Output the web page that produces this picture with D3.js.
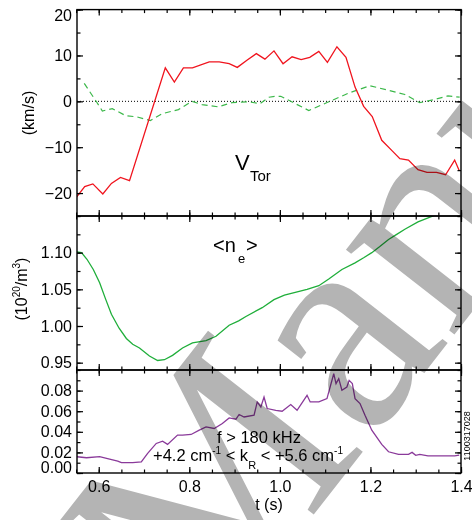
<!DOCTYPE html>
<html>
<head>
<meta charset="utf-8">
<script src="https://cdn.jsdelivr.net/npm/d3@7/dist/d3.min.js"></script>
<style>
  body { margin: 0; background: #fff; }
  svg { display: block; font-family: "Liberation Sans", Arial, Helvetica, sans-serif; }
</style>
</head>
<body>
<svg></svg>
<script>
// shared time axis
const tTicks = [0.6, 0.8, 1.0, 1.2, 1.4];
const tMinor = d3.range(0.55, 1.401, 0.05);

// toroidal velocity (red, km/s)
const vTorT = [0.551,0.569,0.587,0.609,0.628,0.648,0.668,0.747,0.767,0.787,0.807,0.844,0.866,0.888,0.906,0.928,0.948,0.967,0.987,1.007,1.027,1.047,1.066,1.086,1.105,1.126,1.146,1.166,1.185,1.204,1.225,1.247,1.265,1.284,1.305,1.325,1.346,1.366,1.386,1.396];
const vTorV = [-20.9,-18.6,-18.0,-20.2,-17.9,-16.6,-17.3,7.3,4.2,7.3,7.3,8.6,8.6,8.2,7.4,9.0,10.4,9.2,11.0,8.2,9.7,9.1,9.6,10.9,8.5,11.9,9.6,3.1,-1.1,-3.3,-8.5,-10.7,-12.5,-12.8,-14.9,-15.5,-15.5,-16.0,-12.8,-15.1];

// second velocity trace (green dashed)
const vDashT = [0.568,0.595,0.608,0.630,0.659,0.685,0.714,0.740,0.776,0.806,0.828,0.864,0.894,0.930,0.956,0.976,0.989,1.002,1.024,1.064,1.108,1.152,1.199,1.240,1.276,1.309,1.342,1.371,1.397];
const vDashV = [3.9,-0.1,-2.1,-1.6,-3.1,-3.4,-4.2,-2.7,-1.8,0.0,-0.7,-1.2,-0.3,-0.1,-0.5,0.9,1.1,1.1,0.0,-2.0,-0.1,1.8,3.4,2.4,1.5,-0.3,0.4,1.2,0.9];
const vTicks = [-20, -10, 0, 10, 20];

// line averaged density (10^20/m^3)
const neT = [0.551,0.562,0.574,0.588,0.602,0.615,0.628,0.645,0.661,0.675,0.690,0.712,0.730,0.745,0.763,0.785,0.807,0.837,0.859,0.888,0.909,0.925,0.961,0.987,1.010,1.034,1.060,1.086,1.108,1.137,1.166,1.185,1.203,1.220,1.240,1.258,1.276,1.305,1.342,1.400];
const neV = [1.101,1.100,1.091,1.077,1.059,1.037,1.016,0.997,0.983,0.975,0.970,0.959,0.953,0.954,0.960,0.970,0.977,0.980,0.986,1.001,1.007,1.013,1.025,1.036,1.042,1.046,1.050,1.055,1.064,1.077,1.086,1.093,1.100,1.108,1.118,1.125,1.132,1.142,1.151,1.165];
const neTicks = [0.95, 1.00, 1.05, 1.10];

// fluctuation amplitude (purple)
const flT = [0.551,0.573,0.602,0.624,0.642,0.650,0.675,0.694,0.708,0.727,0.741,0.752,0.774,0.785,0.804,0.822,0.837,0.855,0.873,0.888,0.903,0.910,0.921,0.943,0.950,0.958,0.965,0.972,0.991,1.005,1.024,1.038,1.060,1.067,1.086,1.104,1.119,1.124,1.130,1.137,1.148,1.153,1.160,1.166,1.177,1.188,1.203,1.225,1.240,1.262,1.284,1.292,1.300,1.309,1.327,1.357,1.386,1.396];
const flV = [0.0158,0.0148,0.0158,0.0135,0.0116,0.0100,0.0100,0.0109,0.0191,0.0287,0.0309,0.0278,0.0368,0.0368,0.0374,0.0416,0.0448,0.0432,0.0481,0.0535,0.0522,0.0568,0.0544,0.0561,0.0690,0.0641,0.0738,0.0626,0.0609,0.0600,0.0664,0.0609,0.0754,0.0690,0.0690,0.0722,0.0964,0.0868,0.0916,0.0803,0.0835,0.0899,0.0868,0.0722,0.0674,0.0561,0.0416,0.0278,0.0206,0.0181,0.0181,0.0200,0.0172,0.0181,0.0167,0.0167,0.0167,0.0174];
const flTicks = [0.00, 0.02, 0.04, 0.06, 0.08];

const width = 472, height = 520;
const left = 77, right = 461;
const font = 16;

const svg = d3.select("svg").attr("width", width).attr("height", height);

const x = d3.scaleLinear().domain([0.552, 1.4]).range([left, right]);

const panels = [
  { top: 9.6, bottom: 216, domain: [-25, 20], ticks: vTicks, minor: d3.range(-25, 20.1, 5), fmt: d3.format("d") },
  { top: 216, bottom: 370, domain: [0.94, 1.15], ticks: neTicks, minor: d3.range(0.95, 1.151, 0.025), fmt: d3.format(".2f") },
  { top: 370, bottom: 473, domain: [0, 0.1], ticks: flTicks, minor: d3.range(0, 0.1001, 0.01), fmt: d3.format(".2f") }
];
panels.forEach(p => p.y = d3.scaleLinear().domain(p.domain).range([p.bottom, p.top]));

const defs = svg.append("defs");
panels.forEach((p, i) => {
  defs.append("clipPath").attr("id", "clip" + i)
    .append("rect").attr("x", left).attr("y", p.top).attr("width", right - left).attr("height", p.bottom - p.top);
});

function styleAxis(g) {
  g.select(".domain").remove();
  g.selectAll("line").attr("stroke", "#000").attr("stroke-width", 1.2);
  g.selectAll("text").attr("font-size", font).attr("font-family", null).attr("fill", "#000");
}

// zero line in top panel
svg.append("line")
  .attr("x1", left).attr("x2", right)
  .attr("y1", panels[0].y(0)).attr("y2", panels[0].y(0))
  .attr("stroke", "#000").attr("stroke-width", 1).attr("stroke-dasharray", "1,2");

// data lines
const mk = (xs, ys, yScale) => d3.line().x((d, i) => x(xs[i])).y((d, i) => yScale(ys[i]))(xs);

svg.append("path").attr("clip-path", "url(#clip0)")
  .attr("d", mk(vDashT, vDashV, panels[0].y))
  .attr("fill", "none").attr("stroke", "#3cb84a").attr("stroke-width", 1.2).attr("stroke-dasharray", "6,4");

svg.append("path").attr("clip-path", "url(#clip0)")
  .attr("d", mk(vTorT, vTorV, panels[0].y))
  .attr("fill", "none").attr("stroke", "#f0141e").attr("stroke-width", 1.3);

svg.append("path").attr("clip-path", "url(#clip1)")
  .attr("d", mk(neT, neV, panels[1].y))
  .attr("fill", "none").attr("stroke", "#1fae3a").attr("stroke-width", 1.3);

svg.append("path").attr("clip-path", "url(#clip2)")
  .attr("d", mk(flT, flV, panels[2].y))
  .attr("fill", "none").attr("stroke", "#8a3a9a").attr("stroke-width", 1.3);

// frames and axes
panels.forEach((p, i) => {
  svg.append("rect")
    .attr("x", left).attr("y", p.top).attr("width", right - left).attr("height", p.bottom - p.top)
    .attr("fill", "none").attr("stroke", "#000").attr("stroke-width", 1.4);

  // left axis, ticks pointing inward
  const gl = svg.append("g").attr("transform", `translate(${left},0)`)
    .call(d3.axisLeft(p.y).tickValues(p.ticks).tickSize(-6).tickPadding(5).tickFormat(p.fmt));
  styleAxis(gl);
  gl.selectAll(".tick").each(function(d) {
    const yy = p.y(d);
    let off = 0;
    if (yy - p.top < 6) off = p.top + 6 - yy;
    if (p.bottom - yy < 6) off = p.bottom - 6 - yy;
    d3.select(this).select("text").attr("y", off);
  });
  styleAxis(svg.append("g").attr("transform", `translate(${left},0)`)
    .call(d3.axisLeft(p.y).tickValues(p.minor).tickSize(-3.5).tickFormat("")));

  // right axis
  styleAxis(svg.append("g").attr("transform", `translate(${right},0)`)
    .call(d3.axisRight(p.y).tickValues(p.ticks).tickSize(-6).tickFormat("")));
  styleAxis(svg.append("g").attr("transform", `translate(${right},0)`)
    .call(d3.axisRight(p.y).tickValues(p.minor).tickSize(-3.5).tickFormat("")));

  // top and bottom time ticks
  styleAxis(svg.append("g").attr("transform", `translate(0,${p.top})`)
    .call(d3.axisTop(x).tickValues(tTicks).tickSize(-6).tickFormat("")));
  styleAxis(svg.append("g").attr("transform", `translate(0,${p.top})`)
    .call(d3.axisTop(x).tickValues(tMinor).tickSize(-3.5).tickFormat("")));
  const gb = svg.append("g").attr("transform", `translate(0,${p.bottom})`)
    .call(d3.axisBottom(x).tickValues(tTicks).tickSize(-6).tickPadding(8)
      .tickFormat(i === 2 ? d3.format(".1f") : ""));
  styleAxis(gb);
  styleAxis(svg.append("g").attr("transform", `translate(0,${p.bottom})`)
    .call(d3.axisBottom(x).tickValues(tMinor).tickSize(-3.5).tickFormat("")));
});

// axis titles
svg.append("text").attr("transform", "translate(34,113) rotate(-90)")
  .attr("text-anchor", "middle").attr("font-size", font).text("(km/s)");

const yl = svg.append("text").attr("transform", "translate(27,289) rotate(-90)")
  .attr("text-anchor", "middle").attr("font-size", font);
yl.append("tspan").text("(10");
yl.append("tspan").attr("font-size", 10).attr("dy", -7).text("20");
yl.append("tspan").attr("dy", 7).text("/m");
yl.append("tspan").attr("font-size", 10).attr("dy", -7).text("3");
yl.append("tspan").attr("dy", 7).text(")");

svg.append("text").attr("x", (left + right) / 2).attr("y", 510)
  .attr("text-anchor", "middle").attr("font-size", font).text("t (s)");

// panel labels
svg.append("text").attr("x", 235).attr("y", 170).attr("font-size", 22).text("V");
svg.append("text").attr("x", 250).attr("y", 181).attr("font-size", 15).text("Tor");

svg.append("text").attr("x", 213).attr("y", 252).attr("font-size", 20).text("<n");
svg.append("text").attr("x", 238).attr("y", 263).attr("font-size", 13).text("e");
svg.append("text").attr("x", 246).attr("y", 252).attr("font-size", 20).text(">");

svg.append("text").attr("x", 217).attr("y", 443).attr("font-size", 16.5).text("f > 180 kHz");
const kt = svg.append("text").attr("x", 153).attr("y", 461).attr("font-size", 16.5);
kt.append("tspan").text("+4.2 cm");
kt.append("tspan").attr("font-size", 10).attr("dy", -7).text("-1");
kt.append("tspan").attr("dy", 7).text(" < k");
kt.append("tspan").attr("font-size", 11).attr("dy", 8).text("R");
kt.append("tspan").attr("dy", -8).text(" < +5.6 cm");
kt.append("tspan").attr("font-size", 10).attr("dy", -7).text("-1");

svg.append("text").attr("transform", "translate(470,436) rotate(-90)")
  .attr("text-anchor", "middle").attr("font-size", 9).text("1100317028");

// watermark
svg.append("text")
  .attr("transform", "translate(204,655) rotate(-52)")
  .attr("font-family", "Liberation Serif, Times New Roman, serif")
  .attr("font-size", 300).attr("fill", "#b4b4b4")
  .style("mix-blend-mode", "multiply")
  .text("Manuscript");
</script>
</body>
</html>
